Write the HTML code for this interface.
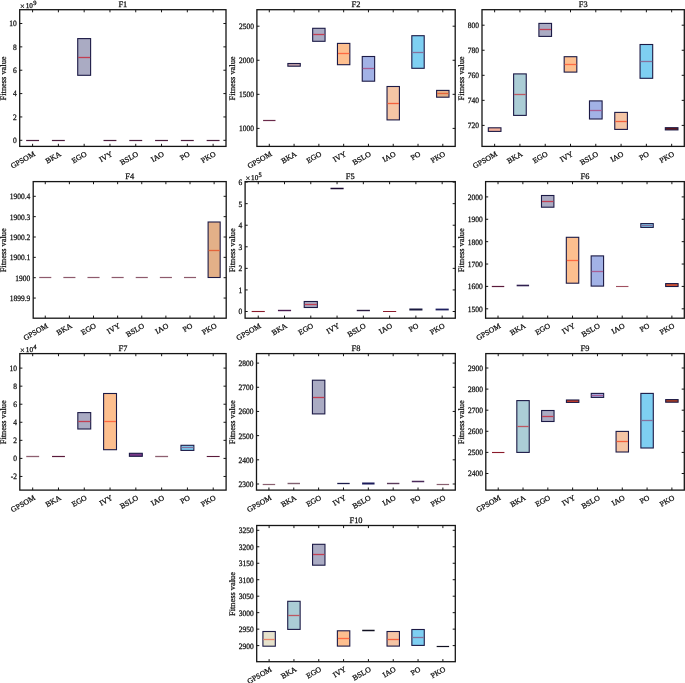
<!DOCTYPE html>
<html><head><meta charset="utf-8"><style>
html,body{margin:0;padding:0;background:#fff;}
svg{display:block;will-change:transform;}
text{text-rendering:geometricPrecision;font-family:"Liberation Serif",serif;fill:#111;stroke:#111;stroke-width:0.26px;}
</style></head><body>
<svg width="685" height="683" viewBox="0 0 685 683">
<rect width="685" height="683" fill="#fff"/>
<g><rect x="26.15" y="139.9" width="12.89" height="1.2" fill="#4a1c3c"/><rect x="51.93" y="139.9" width="12.89" height="1.2" fill="#4a1c3c"/><rect x="77.72" y="38.6" width="12.89" height="36.7" fill="#aaabc3" stroke="#1c1a46" stroke-width="1.1"/><line x1="78.22" x2="90.12" y1="57.5" y2="57.5" stroke="#c23e52" stroke-width="1.3"/><rect x="103.51" y="139.9" width="12.89" height="1.2" fill="#4a1c3c"/><rect x="129.3" y="139.9" width="12.89" height="1.2" fill="#4a1c3c"/><rect x="155.08" y="139.9" width="12.89" height="1.2" fill="#4a1c3c"/><rect x="180.87" y="139.9" width="12.89" height="1.2" fill="#4a1c3c"/><rect x="206.66" y="139.9" width="12.89" height="1.2" fill="#4a1c3c"/><path d="M32.59 146.4v-2.6M32.59 9.7v2.6M58.38 146.4v-2.6M58.38 9.7v2.6M84.17 146.4v-2.6M84.17 9.7v2.6M109.96 146.4v-2.6M109.96 9.7v2.6M135.74 146.4v-2.6M135.74 9.7v2.6M161.53 146.4v-2.6M161.53 9.7v2.6M187.32 146.4v-2.6M187.32 9.7v2.6M213.11 146.4v-2.6M213.11 9.7v2.6M19.7 140.3h2.6M226 140.3h-2.6M19.7 116.94h2.6M226 116.94h-2.6M19.7 93.58h2.6M226 93.58h-2.6M19.7 70.22h2.6M226 70.22h-2.6M19.7 46.86h2.6M226 46.86h-2.6M19.7 23.5h2.6M226 23.5h-2.6" stroke="#151515" stroke-width="1" fill="none"/><rect x="19.7" y="9.7" width="206.3" height="136.7" fill="none" stroke="#151515" stroke-width="1.3"/><text transform="translate(16.8 143.2) scale(0.915 1)" text-anchor="end" font-size="8.2">0</text><text transform="translate(16.8 119.84) scale(0.915 1)" text-anchor="end" font-size="8.2">2</text><text transform="translate(16.8 96.48) scale(0.915 1)" text-anchor="end" font-size="8.2">4</text><text transform="translate(16.8 73.12) scale(0.915 1)" text-anchor="end" font-size="8.2">6</text><text transform="translate(16.8 49.76) scale(0.915 1)" text-anchor="end" font-size="8.2">8</text><text transform="translate(16.8 26.4) scale(0.915 1)" text-anchor="end" font-size="8.2">10</text><text transform="translate(34.59 153.4) rotate(-30) scale(1.04 1)" text-anchor="end" font-size="7.5" dy="2.3">GPSOM</text><text transform="translate(60.38 153.4) rotate(-30) scale(1.04 1)" text-anchor="end" font-size="7.5" dy="2.3">BKA</text><text transform="translate(86.17 153.4) rotate(-30) scale(1.04 1)" text-anchor="end" font-size="7.5" dy="2.3">EGO</text><text transform="translate(111.96 153.4) rotate(-30) scale(1.04 1)" text-anchor="end" font-size="7.5" dy="2.3">IVY</text><text transform="translate(137.74 153.4) rotate(-30) scale(1.04 1)" text-anchor="end" font-size="7.5" dy="2.3">BSLO</text><text transform="translate(163.53 153.4) rotate(-30) scale(1.04 1)" text-anchor="end" font-size="7.5" dy="2.3">IAO</text><text transform="translate(189.32 153.4) rotate(-30) scale(1.04 1)" text-anchor="end" font-size="7.5" dy="2.3">PO</text><text transform="translate(215.11 153.4) rotate(-30) scale(1.04 1)" text-anchor="end" font-size="7.5" dy="2.3">PKO</text><text x="122.85" y="7" text-anchor="middle" font-size="8.4">F1</text><text transform="translate(5.7 78.45) rotate(-90)" text-anchor="middle" font-size="8.4">Fitness value</text><text x="20" y="9.3" font-size="8.4">×</text><text x="25.7" y="7.8" font-size="7.2">10</text><text x="33.2" y="4.8" font-size="6.5">9</text></g>
<g><rect x="263.1" y="119.9" width="12.39" height="1.2" fill="#6a2a4a"/><rect x="287.88" y="63.5" width="12.39" height="2.7" fill="#c4a2aa" stroke="#1c1a46" stroke-width="1.1"/><rect x="312.67" y="28.3" width="12.39" height="13" fill="#aaabc3" stroke="#1c1a46" stroke-width="1.1"/><line x1="313.17" x2="324.57" y1="34.5" y2="34.5" stroke="#c23e52" stroke-width="1.3"/><rect x="337.46" y="43.4" width="12.39" height="21.3" fill="#fdbf8f" stroke="#1c1a46" stroke-width="1.1"/><line x1="337.96" x2="349.35" y1="53.5" y2="53.5" stroke="#ff6a42" stroke-width="1.3"/><rect x="362.25" y="56.5" width="12.39" height="24.7" fill="#a2b2e6" stroke="#1c1a46" stroke-width="1.1"/><line x1="362.75" x2="374.14" y1="68.5" y2="68.5" stroke="#a85e94" stroke-width="1.3"/><rect x="387.03" y="86.5" width="12.39" height="33.4" fill="#f5c5a5" stroke="#1c1a46" stroke-width="1.1"/><line x1="387.53" x2="398.93" y1="103.5" y2="103.5" stroke="#f4603c" stroke-width="1.3"/><rect x="411.82" y="35.7" width="12.39" height="32.6" fill="#7ecff2" stroke="#1c1a46" stroke-width="1.1"/><line x1="412.32" x2="423.72" y1="52.5" y2="52.5" stroke="#86709c" stroke-width="1.3"/><rect x="436.61" y="90.4" width="12.39" height="6.8" fill="#e3b088" stroke="#1c1a46" stroke-width="1.1"/><line x1="437.11" x2="448.5" y1="93.5" y2="93.5" stroke="#e4643a" stroke-width="1.3"/><path d="M269.29 146.4v-2.6M269.29 9.7v2.6M294.08 146.4v-2.6M294.08 9.7v2.6M318.87 146.4v-2.6M318.87 9.7v2.6M343.66 146.4v-2.6M343.66 9.7v2.6M368.44 146.4v-2.6M368.44 9.7v2.6M393.23 146.4v-2.6M393.23 9.7v2.6M418.02 146.4v-2.6M418.02 9.7v2.6M442.81 146.4v-2.6M442.81 9.7v2.6M256.9 128.4h2.6M455.2 128.4h-2.6M256.9 94.33h2.6M455.2 94.33h-2.6M256.9 60.26h2.6M455.2 60.26h-2.6M256.9 26.19h2.6M455.2 26.19h-2.6" stroke="#151515" stroke-width="1" fill="none"/><rect x="256.9" y="9.7" width="198.3" height="136.7" fill="none" stroke="#151515" stroke-width="1.3"/><text transform="translate(254 131.3) scale(0.915 1)" text-anchor="end" font-size="8.2">1000</text><text transform="translate(254 97.23) scale(0.915 1)" text-anchor="end" font-size="8.2">1500</text><text transform="translate(254 63.16) scale(0.915 1)" text-anchor="end" font-size="8.2">2000</text><text transform="translate(254 29.09) scale(0.915 1)" text-anchor="end" font-size="8.2">2500</text><text transform="translate(271.29 153.4) rotate(-30) scale(1.04 1)" text-anchor="end" font-size="7.5" dy="2.3">GPSOM</text><text transform="translate(296.08 153.4) rotate(-30) scale(1.04 1)" text-anchor="end" font-size="7.5" dy="2.3">BKA</text><text transform="translate(320.87 153.4) rotate(-30) scale(1.04 1)" text-anchor="end" font-size="7.5" dy="2.3">EGO</text><text transform="translate(345.66 153.4) rotate(-30) scale(1.04 1)" text-anchor="end" font-size="7.5" dy="2.3">IVY</text><text transform="translate(370.44 153.4) rotate(-30) scale(1.04 1)" text-anchor="end" font-size="7.5" dy="2.3">BSLO</text><text transform="translate(395.23 153.4) rotate(-30) scale(1.04 1)" text-anchor="end" font-size="7.5" dy="2.3">IAO</text><text transform="translate(420.02 153.4) rotate(-30) scale(1.04 1)" text-anchor="end" font-size="7.5" dy="2.3">PO</text><text transform="translate(444.81 153.4) rotate(-30) scale(1.04 1)" text-anchor="end" font-size="7.5" dy="2.3">PKO</text><text x="356.05" y="7" text-anchor="middle" font-size="8.4">F2</text><text transform="translate(235.39 78.45) rotate(-90)" text-anchor="middle" font-size="8.4">Fitness value</text></g>
<g><rect x="488.32" y="127.8" width="12.64" height="3.6" fill="#f4b09a" stroke="#1c1a46" stroke-width="1.1"/><rect x="513.61" y="73.9" width="12.64" height="41.5" fill="#abcdd6" stroke="#1c1a46" stroke-width="1.1"/><line x1="514.11" x2="525.75" y1="94.5" y2="94.5" stroke="#bc5862" stroke-width="1.3"/><rect x="538.9" y="23.4" width="12.64" height="13" fill="#aaabc3" stroke="#1c1a46" stroke-width="1.1"/><line x1="539.4" x2="551.04" y1="29.5" y2="29.5" stroke="#c23e52" stroke-width="1.3"/><rect x="564.18" y="56.7" width="12.64" height="15.4" fill="#fdbf8f" stroke="#1c1a46" stroke-width="1.1"/><line x1="564.68" x2="576.33" y1="64.5" y2="64.5" stroke="#ff6a42" stroke-width="1.3"/><rect x="589.47" y="100.9" width="12.64" height="18.1" fill="#a2b2e6" stroke="#1c1a46" stroke-width="1.1"/><line x1="589.97" x2="601.62" y1="110.5" y2="110.5" stroke="#a85e94" stroke-width="1.3"/><rect x="614.76" y="112.4" width="12.64" height="17" fill="#f5c5a5" stroke="#1c1a46" stroke-width="1.1"/><line x1="615.26" x2="626.9" y1="121.5" y2="121.5" stroke="#f4603c" stroke-width="1.3"/><rect x="640.05" y="44.5" width="12.64" height="33.8" fill="#7ecff2" stroke="#1c1a46" stroke-width="1.1"/><line x1="640.55" x2="652.19" y1="61.5" y2="61.5" stroke="#86709c" stroke-width="1.3"/><rect x="665.33" y="127.7" width="12.64" height="2.2" fill="#701510" stroke="#1c1a46" stroke-width="1.1"/><path d="M494.64 146.4v-2.6M494.64 9.7v2.6M519.93 146.4v-2.6M519.93 9.7v2.6M545.22 146.4v-2.6M545.22 9.7v2.6M570.51 146.4v-2.6M570.51 9.7v2.6M595.79 146.4v-2.6M595.79 9.7v2.6M621.08 146.4v-2.6M621.08 9.7v2.6M646.37 146.4v-2.6M646.37 9.7v2.6M671.66 146.4v-2.6M671.66 9.7v2.6M482 125.4h2.6M684.3 125.4h-2.6M482 100.35h2.6M684.3 100.35h-2.6M482 75.3h2.6M684.3 75.3h-2.6M482 50.25h2.6M684.3 50.25h-2.6M482 25.2h2.6M684.3 25.2h-2.6" stroke="#151515" stroke-width="1" fill="none"/><rect x="482" y="9.7" width="202.3" height="136.7" fill="none" stroke="#151515" stroke-width="1.3"/><text transform="translate(479.1 128.3) scale(0.915 1)" text-anchor="end" font-size="8.2">720</text><text transform="translate(479.1 103.25) scale(0.915 1)" text-anchor="end" font-size="8.2">740</text><text transform="translate(479.1 78.2) scale(0.915 1)" text-anchor="end" font-size="8.2">760</text><text transform="translate(479.1 53.15) scale(0.915 1)" text-anchor="end" font-size="8.2">780</text><text transform="translate(479.1 28.1) scale(0.915 1)" text-anchor="end" font-size="8.2">800</text><text transform="translate(496.64 153.4) rotate(-30) scale(1.04 1)" text-anchor="end" font-size="7.5" dy="2.3">GPSOM</text><text transform="translate(521.93 153.4) rotate(-30) scale(1.04 1)" text-anchor="end" font-size="7.5" dy="2.3">BKA</text><text transform="translate(547.22 153.4) rotate(-30) scale(1.04 1)" text-anchor="end" font-size="7.5" dy="2.3">EGO</text><text transform="translate(572.51 153.4) rotate(-30) scale(1.04 1)" text-anchor="end" font-size="7.5" dy="2.3">IVY</text><text transform="translate(597.79 153.4) rotate(-30) scale(1.04 1)" text-anchor="end" font-size="7.5" dy="2.3">BSLO</text><text transform="translate(623.08 153.4) rotate(-30) scale(1.04 1)" text-anchor="end" font-size="7.5" dy="2.3">IAO</text><text transform="translate(648.37 153.4) rotate(-30) scale(1.04 1)" text-anchor="end" font-size="7.5" dy="2.3">PO</text><text transform="translate(673.66 153.4) rotate(-30) scale(1.04 1)" text-anchor="end" font-size="7.5" dy="2.3">PKO</text><text x="583.15" y="7" text-anchor="middle" font-size="8.4">F3</text><text transform="translate(464.25 78.45) rotate(-90)" text-anchor="middle" font-size="8.4">Fitness value</text></g>
<g><rect x="39.23" y="276.9" width="12.06" height="1.2" fill="#8e5a6c"/><rect x="63.36" y="276.9" width="12.06" height="1.2" fill="#8e5a6c"/><rect x="87.48" y="276.9" width="12.06" height="1.2" fill="#8e5a6c"/><rect x="111.61" y="276.9" width="12.06" height="1.2" fill="#8e5a6c"/><rect x="135.73" y="276.9" width="12.06" height="1.2" fill="#8e5a6c"/><rect x="159.86" y="276.9" width="12.06" height="1.2" fill="#8e5a6c"/><rect x="183.98" y="276.9" width="12.06" height="1.2" fill="#8e5a6c"/><rect x="208.11" y="222" width="12.06" height="55.5" fill="#e3b088" stroke="#1c1a46" stroke-width="1.1"/><line x1="208.61" x2="219.67" y1="250.5" y2="250.5" stroke="#e4643a" stroke-width="1.3"/><path d="M45.26 318.2v-2.6M45.26 181.6v2.6M69.39 318.2v-2.6M69.39 181.6v2.6M93.51 318.2v-2.6M93.51 181.6v2.6M117.64 318.2v-2.6M117.64 181.6v2.6M141.76 318.2v-2.6M141.76 181.6v2.6M165.89 318.2v-2.6M165.89 181.6v2.6M190.01 318.2v-2.6M190.01 181.6v2.6M214.14 318.2v-2.6M214.14 181.6v2.6M33.2 298.05h2.6M226.2 298.05h-2.6M33.2 277.7h2.6M226.2 277.7h-2.6M33.2 257.35h2.6M226.2 257.35h-2.6M33.2 237h2.6M226.2 237h-2.6M33.2 216.65h2.6M226.2 216.65h-2.6M33.2 196.3h2.6M226.2 196.3h-2.6" stroke="#151515" stroke-width="1" fill="none"/><rect x="33.2" y="181.6" width="193" height="136.6" fill="none" stroke="#151515" stroke-width="1.3"/><text transform="translate(30.3 300.95) scale(0.915 1)" text-anchor="end" font-size="8.2">1899.9</text><text transform="translate(30.3 280.6) scale(0.915 1)" text-anchor="end" font-size="8.2">1900</text><text transform="translate(30.3 260.25) scale(0.915 1)" text-anchor="end" font-size="8.2">1900.1</text><text transform="translate(30.3 239.9) scale(0.915 1)" text-anchor="end" font-size="8.2">1900.2</text><text transform="translate(30.3 219.55) scale(0.915 1)" text-anchor="end" font-size="8.2">1900.3</text><text transform="translate(30.3 199.2) scale(0.915 1)" text-anchor="end" font-size="8.2">1900.4</text><text transform="translate(47.26 325.2) rotate(-30) scale(1.04 1)" text-anchor="end" font-size="7.5" dy="2.3">GPSOM</text><text transform="translate(71.39 325.2) rotate(-30) scale(1.04 1)" text-anchor="end" font-size="7.5" dy="2.3">BKA</text><text transform="translate(95.51 325.2) rotate(-30) scale(1.04 1)" text-anchor="end" font-size="7.5" dy="2.3">EGO</text><text transform="translate(119.64 325.2) rotate(-30) scale(1.04 1)" text-anchor="end" font-size="7.5" dy="2.3">IVY</text><text transform="translate(143.76 325.2) rotate(-30) scale(1.04 1)" text-anchor="end" font-size="7.5" dy="2.3">BSLO</text><text transform="translate(167.89 325.2) rotate(-30) scale(1.04 1)" text-anchor="end" font-size="7.5" dy="2.3">IAO</text><text transform="translate(192.01 325.2) rotate(-30) scale(1.04 1)" text-anchor="end" font-size="7.5" dy="2.3">PO</text><text transform="translate(216.14 325.2) rotate(-30) scale(1.04 1)" text-anchor="end" font-size="7.5" dy="2.3">PKO</text><text x="129.7" y="178.9" text-anchor="middle" font-size="8.4">F4</text><text transform="translate(6.07 250.3) rotate(-90)" text-anchor="middle" font-size="8.4">Fitness value</text></g>
<g><rect x="251.67" y="310.95" width="13.14" height="1.1" fill="#8a1a2a"/><rect x="277.94" y="309.8" width="13.14" height="1.4" fill="#4a1a50"/><rect x="304.22" y="301.5" width="13.14" height="6" fill="#aaabc3" stroke="#1c1a46" stroke-width="1.1"/><line x1="304.72" x2="316.86" y1="304.5" y2="304.5" stroke="#c23e52" stroke-width="1.3"/><rect x="330.49" y="187.75" width="13.14" height="1.5" fill="#1a0a30"/><rect x="356.77" y="309.8" width="13.14" height="1.4" fill="#2a1a40"/><rect x="383.04" y="311" width="13.14" height="1" fill="#8a1a2a"/><rect x="409.32" y="308.5" width="13.14" height="2" fill="#1a1a40"/><rect x="435.59" y="308.6" width="13.14" height="1.8" fill="#1e2060"/><path d="M258.24 318.2v-2.6M258.24 181.6v2.6M284.51 318.2v-2.6M284.51 181.6v2.6M310.79 318.2v-2.6M310.79 181.6v2.6M337.06 318.2v-2.6M337.06 181.6v2.6M363.34 318.2v-2.6M363.34 181.6v2.6M389.61 318.2v-2.6M389.61 181.6v2.6M415.89 318.2v-2.6M415.89 181.6v2.6M442.16 318.2v-2.6M442.16 181.6v2.6M245.1 311.5h2.6M455.3 311.5h-2.6M245.1 289.93h2.6M455.3 289.93h-2.6M245.1 268.36h2.6M455.3 268.36h-2.6M245.1 246.79h2.6M455.3 246.79h-2.6M245.1 225.22h2.6M455.3 225.22h-2.6M245.1 203.65h2.6M455.3 203.65h-2.6M245.1 182.08h2.6M455.3 182.08h-2.6" stroke="#151515" stroke-width="1" fill="none"/><rect x="245.1" y="181.6" width="210.2" height="136.6" fill="none" stroke="#151515" stroke-width="1.3"/><text transform="translate(242.2 314.4) scale(0.915 1)" text-anchor="end" font-size="8.2">0</text><text transform="translate(242.2 292.83) scale(0.915 1)" text-anchor="end" font-size="8.2">1</text><text transform="translate(242.2 271.26) scale(0.915 1)" text-anchor="end" font-size="8.2">2</text><text transform="translate(242.2 249.69) scale(0.915 1)" text-anchor="end" font-size="8.2">3</text><text transform="translate(242.2 228.12) scale(0.915 1)" text-anchor="end" font-size="8.2">4</text><text transform="translate(242.2 206.55) scale(0.915 1)" text-anchor="end" font-size="8.2">5</text><text transform="translate(242.2 184.98) scale(0.915 1)" text-anchor="end" font-size="8.2">6</text><text transform="translate(260.24 325.2) rotate(-30) scale(1.04 1)" text-anchor="end" font-size="7.5" dy="2.3">GPSOM</text><text transform="translate(286.51 325.2) rotate(-30) scale(1.04 1)" text-anchor="end" font-size="7.5" dy="2.3">BKA</text><text transform="translate(312.79 325.2) rotate(-30) scale(1.04 1)" text-anchor="end" font-size="7.5" dy="2.3">EGO</text><text transform="translate(339.06 325.2) rotate(-30) scale(1.04 1)" text-anchor="end" font-size="7.5" dy="2.3">IVY</text><text transform="translate(365.34 325.2) rotate(-30) scale(1.04 1)" text-anchor="end" font-size="7.5" dy="2.3">BSLO</text><text transform="translate(391.61 325.2) rotate(-30) scale(1.04 1)" text-anchor="end" font-size="7.5" dy="2.3">IAO</text><text transform="translate(417.89 325.2) rotate(-30) scale(1.04 1)" text-anchor="end" font-size="7.5" dy="2.3">PO</text><text transform="translate(444.16 325.2) rotate(-30) scale(1.04 1)" text-anchor="end" font-size="7.5" dy="2.3">PKO</text><text x="350.2" y="178.9" text-anchor="middle" font-size="8.4">F5</text><text transform="translate(234.85 250.3) rotate(-90)" text-anchor="middle" font-size="8.4">Fitness value</text><text x="245.4" y="181.2" font-size="8.4">×</text><text x="251.1" y="179.7" font-size="7.2">10</text><text x="258.6" y="176.7" font-size="6.5">5</text></g>
<g><rect x="491.81" y="285.9" width="12.42" height="1.2" fill="#5a1a3a"/><rect x="516.65" y="284.7" width="12.42" height="1.6" fill="#302050"/><rect x="541.48" y="195.5" width="12.42" height="11.7" fill="#aaabc3" stroke="#1c1a46" stroke-width="1.1"/><line x1="541.98" x2="553.4" y1="201.5" y2="201.5" stroke="#c23e52" stroke-width="1.3"/><rect x="566.32" y="237.3" width="12.42" height="45.9" fill="#fdbf8f" stroke="#1c1a46" stroke-width="1.1"/><line x1="566.82" x2="578.24" y1="260.5" y2="260.5" stroke="#ff6a42" stroke-width="1.3"/><rect x="591.16" y="255.9" width="12.42" height="30.2" fill="#a2b2e6" stroke="#1c1a46" stroke-width="1.1"/><line x1="591.66" x2="603.08" y1="271.5" y2="271.5" stroke="#a85e94" stroke-width="1.3"/><rect x="616" y="285.95" width="12.42" height="1.1" fill="#a05060"/><rect x="640.83" y="223.6" width="12.42" height="3.8" fill="#7ecff2" stroke="#1c1a46" stroke-width="1.1"/><line x1="641.33" x2="652.75" y1="225.5" y2="225.5" stroke="#86709c" stroke-width="1.3"/><rect x="665.67" y="283.6" width="12.42" height="2.9" fill="#d45434" stroke="#1c1a46" stroke-width="1.1"/><path d="M498.02 318.2v-2.6M498.02 181.6v2.6M522.86 318.2v-2.6M522.86 181.6v2.6M547.69 318.2v-2.6M547.69 181.6v2.6M572.53 318.2v-2.6M572.53 181.6v2.6M597.37 318.2v-2.6M597.37 181.6v2.6M622.21 318.2v-2.6M622.21 181.6v2.6M647.04 318.2v-2.6M647.04 181.6v2.6M671.88 318.2v-2.6M671.88 181.6v2.6M485.6 308.8h2.6M684.3 308.8h-2.6M485.6 286.42h2.6M684.3 286.42h-2.6M485.6 264.04h2.6M684.3 264.04h-2.6M485.6 241.66h2.6M684.3 241.66h-2.6M485.6 219.28h2.6M684.3 219.28h-2.6M485.6 196.9h2.6M684.3 196.9h-2.6" stroke="#151515" stroke-width="1" fill="none"/><rect x="485.6" y="181.6" width="198.7" height="136.6" fill="none" stroke="#151515" stroke-width="1.3"/><text transform="translate(482.7 311.7) scale(0.915 1)" text-anchor="end" font-size="8.2">1500</text><text transform="translate(482.7 289.32) scale(0.915 1)" text-anchor="end" font-size="8.2">1600</text><text transform="translate(482.7 266.94) scale(0.915 1)" text-anchor="end" font-size="8.2">1700</text><text transform="translate(482.7 244.56) scale(0.915 1)" text-anchor="end" font-size="8.2">1800</text><text transform="translate(482.7 222.18) scale(0.915 1)" text-anchor="end" font-size="8.2">1900</text><text transform="translate(482.7 199.8) scale(0.915 1)" text-anchor="end" font-size="8.2">2000</text><text transform="translate(500.02 325.2) rotate(-30) scale(1.04 1)" text-anchor="end" font-size="7.5" dy="2.3">GPSOM</text><text transform="translate(524.86 325.2) rotate(-30) scale(1.04 1)" text-anchor="end" font-size="7.5" dy="2.3">BKA</text><text transform="translate(549.69 325.2) rotate(-30) scale(1.04 1)" text-anchor="end" font-size="7.5" dy="2.3">EGO</text><text transform="translate(574.53 325.2) rotate(-30) scale(1.04 1)" text-anchor="end" font-size="7.5" dy="2.3">IVY</text><text transform="translate(599.37 325.2) rotate(-30) scale(1.04 1)" text-anchor="end" font-size="7.5" dy="2.3">BSLO</text><text transform="translate(624.21 325.2) rotate(-30) scale(1.04 1)" text-anchor="end" font-size="7.5" dy="2.3">IAO</text><text transform="translate(649.04 325.2) rotate(-30) scale(1.04 1)" text-anchor="end" font-size="7.5" dy="2.3">PO</text><text transform="translate(673.88 325.2) rotate(-30) scale(1.04 1)" text-anchor="end" font-size="7.5" dy="2.3">PKO</text><text x="584.95" y="178.9" text-anchor="middle" font-size="8.4">F6</text><text transform="translate(464.09 250.3) rotate(-90)" text-anchor="middle" font-size="8.4">Fitness value</text></g>
<g><rect x="26.25" y="455.85" width="12.89" height="1.3" fill="#8e6070"/><rect x="52.03" y="455.9" width="12.89" height="1.2" fill="#5a1a3a"/><rect x="77.82" y="412.6" width="12.89" height="16.4" fill="#aaabc3" stroke="#1c1a46" stroke-width="1.1"/><line x1="78.32" x2="90.22" y1="421.5" y2="421.5" stroke="#c23e52" stroke-width="1.3"/><rect x="103.61" y="393.5" width="12.89" height="56.2" fill="#fdbf8f" stroke="#1c1a46" stroke-width="1.1"/><line x1="104.11" x2="116" y1="421.5" y2="421.5" stroke="#ff6a42" stroke-width="1.3"/><rect x="129.4" y="453.3" width="12.89" height="3" fill="#7a3a8a" stroke="#1c1a46" stroke-width="1.1"/><rect x="155.18" y="455.85" width="12.89" height="1.3" fill="#8e6070"/><rect x="180.97" y="445.3" width="12.89" height="5.1" fill="#7ecff2" stroke="#1c1a46" stroke-width="1.1"/><line x1="181.47" x2="193.37" y1="447.5" y2="447.5" stroke="#86709c" stroke-width="1.3"/><rect x="206.76" y="455.95" width="12.89" height="1.1" fill="#5a1a3a"/><path d="M32.69 490.1v-2.6M32.69 353.6v2.6M58.48 490.1v-2.6M58.48 353.6v2.6M84.27 490.1v-2.6M84.27 353.6v2.6M110.06 490.1v-2.6M110.06 353.6v2.6M135.84 490.1v-2.6M135.84 353.6v2.6M161.63 490.1v-2.6M161.63 353.6v2.6M187.42 490.1v-2.6M187.42 353.6v2.6M213.21 490.1v-2.6M213.21 353.6v2.6M19.8 476.46h2.6M226.1 476.46h-2.6M19.8 458.4h2.6M226.1 458.4h-2.6M19.8 440.34h2.6M226.1 440.34h-2.6M19.8 422.28h2.6M226.1 422.28h-2.6M19.8 404.22h2.6M226.1 404.22h-2.6M19.8 386.16h2.6M226.1 386.16h-2.6M19.8 368.1h2.6M226.1 368.1h-2.6" stroke="#151515" stroke-width="1" fill="none"/><rect x="19.8" y="353.6" width="206.3" height="136.5" fill="none" stroke="#151515" stroke-width="1.3"/><text transform="translate(16.9 479.36) scale(0.915 1)" text-anchor="end" font-size="8.2">-2</text><text transform="translate(16.9 461.3) scale(0.915 1)" text-anchor="end" font-size="8.2">0</text><text transform="translate(16.9 443.24) scale(0.915 1)" text-anchor="end" font-size="8.2">2</text><text transform="translate(16.9 425.18) scale(0.915 1)" text-anchor="end" font-size="8.2">4</text><text transform="translate(16.9 407.12) scale(0.915 1)" text-anchor="end" font-size="8.2">6</text><text transform="translate(16.9 389.06) scale(0.915 1)" text-anchor="end" font-size="8.2">8</text><text transform="translate(16.9 371) scale(0.915 1)" text-anchor="end" font-size="8.2">10</text><text transform="translate(34.69 497.1) rotate(-30) scale(1.04 1)" text-anchor="end" font-size="7.5" dy="2.3">GPSOM</text><text transform="translate(60.48 497.1) rotate(-30) scale(1.04 1)" text-anchor="end" font-size="7.5" dy="2.3">BKA</text><text transform="translate(86.27 497.1) rotate(-30) scale(1.04 1)" text-anchor="end" font-size="7.5" dy="2.3">EGO</text><text transform="translate(112.06 497.1) rotate(-30) scale(1.04 1)" text-anchor="end" font-size="7.5" dy="2.3">IVY</text><text transform="translate(137.84 497.1) rotate(-30) scale(1.04 1)" text-anchor="end" font-size="7.5" dy="2.3">BSLO</text><text transform="translate(163.63 497.1) rotate(-30) scale(1.04 1)" text-anchor="end" font-size="7.5" dy="2.3">IAO</text><text transform="translate(189.42 497.1) rotate(-30) scale(1.04 1)" text-anchor="end" font-size="7.5" dy="2.3">PO</text><text transform="translate(215.21 497.1) rotate(-30) scale(1.04 1)" text-anchor="end" font-size="7.5" dy="2.3">PKO</text><text x="122.95" y="350.9" text-anchor="middle" font-size="8.4">F7</text><text transform="translate(5.8 422.25) rotate(-90)" text-anchor="middle" font-size="8.4">Fitness value</text><text x="20.1" y="353.2" font-size="8.4">×</text><text x="25.8" y="351.7" font-size="7.2">10</text><text x="33.3" y="348.7" font-size="6.5">4</text></g>
<g><rect x="262.71" y="483.9" width="12.43" height="1.2" fill="#8a6070"/><rect x="287.56" y="482.8" width="12.43" height="1.4" fill="#806070"/><rect x="312.41" y="380.2" width="12.43" height="33.7" fill="#aaabc3" stroke="#1c1a46" stroke-width="1.1"/><line x1="312.91" x2="324.34" y1="397.5" y2="397.5" stroke="#c23e52" stroke-width="1.3"/><rect x="337.26" y="482.85" width="12.43" height="1.3" fill="#1a1a4a"/><rect x="362.11" y="482.5" width="12.43" height="2" fill="#1a1a5a"/><rect x="386.96" y="482.8" width="12.43" height="1.4" fill="#5a3a5a"/><rect x="411.81" y="480.75" width="12.43" height="1.5" fill="#4a2a5a"/><rect x="436.66" y="483.9" width="12.43" height="1.2" fill="#8a6070"/><path d="M268.93 490.1v-2.6M268.93 353.6v2.6M293.77 490.1v-2.6M293.77 353.6v2.6M318.62 490.1v-2.6M318.62 353.6v2.6M343.48 490.1v-2.6M343.48 353.6v2.6M368.32 490.1v-2.6M368.32 353.6v2.6M393.18 490.1v-2.6M393.18 353.6v2.6M418.02 490.1v-2.6M418.02 353.6v2.6M442.88 490.1v-2.6M442.88 353.6v2.6M256.5 484h2.6M455.3 484h-2.6M256.5 459.82h2.6M455.3 459.82h-2.6M256.5 435.64h2.6M455.3 435.64h-2.6M256.5 411.46h2.6M455.3 411.46h-2.6M256.5 387.28h2.6M455.3 387.28h-2.6M256.5 363.1h2.6M455.3 363.1h-2.6" stroke="#151515" stroke-width="1" fill="none"/><rect x="256.5" y="353.6" width="198.8" height="136.5" fill="none" stroke="#151515" stroke-width="1.3"/><text transform="translate(253.6 486.9) scale(0.915 1)" text-anchor="end" font-size="8.2">2300</text><text transform="translate(253.6 462.72) scale(0.915 1)" text-anchor="end" font-size="8.2">2400</text><text transform="translate(253.6 438.54) scale(0.915 1)" text-anchor="end" font-size="8.2">2500</text><text transform="translate(253.6 414.36) scale(0.915 1)" text-anchor="end" font-size="8.2">2600</text><text transform="translate(253.6 390.18) scale(0.915 1)" text-anchor="end" font-size="8.2">2700</text><text transform="translate(253.6 366) scale(0.915 1)" text-anchor="end" font-size="8.2">2800</text><text transform="translate(270.93 497.1) rotate(-30) scale(1.04 1)" text-anchor="end" font-size="7.5" dy="2.3">GPSOM</text><text transform="translate(295.77 497.1) rotate(-30) scale(1.04 1)" text-anchor="end" font-size="7.5" dy="2.3">BKA</text><text transform="translate(320.62 497.1) rotate(-30) scale(1.04 1)" text-anchor="end" font-size="7.5" dy="2.3">EGO</text><text transform="translate(345.48 497.1) rotate(-30) scale(1.04 1)" text-anchor="end" font-size="7.5" dy="2.3">IVY</text><text transform="translate(370.32 497.1) rotate(-30) scale(1.04 1)" text-anchor="end" font-size="7.5" dy="2.3">BSLO</text><text transform="translate(395.18 497.1) rotate(-30) scale(1.04 1)" text-anchor="end" font-size="7.5" dy="2.3">IAO</text><text transform="translate(420.02 497.1) rotate(-30) scale(1.04 1)" text-anchor="end" font-size="7.5" dy="2.3">PO</text><text transform="translate(444.88 497.1) rotate(-30) scale(1.04 1)" text-anchor="end" font-size="7.5" dy="2.3">PKO</text><text x="355.9" y="350.9" text-anchor="middle" font-size="8.4">F8</text><text transform="translate(234.99 422.25) rotate(-90)" text-anchor="middle" font-size="8.4">Fitness value</text></g>
<g><rect x="492" y="451.95" width="12.41" height="1.1" fill="#8a1a2a"/><rect x="516.82" y="400.6" width="12.41" height="51.8" fill="#abcdd6" stroke="#1c1a46" stroke-width="1.1"/><line x1="517.32" x2="528.72" y1="426.5" y2="426.5" stroke="#bc5862" stroke-width="1.3"/><rect x="541.63" y="410.5" width="12.41" height="11" fill="#aaabc3" stroke="#1c1a46" stroke-width="1.1"/><line x1="542.13" x2="553.53" y1="416.5" y2="416.5" stroke="#c23e52" stroke-width="1.3"/><rect x="566.44" y="400" width="12.41" height="2.4" fill="#d84028" stroke="#1c1a46" stroke-width="1.1"/><rect x="591.25" y="393.4" width="12.41" height="4" fill="#a2b2e6" stroke="#1c1a46" stroke-width="1.1"/><line x1="591.75" x2="603.16" y1="395.5" y2="395.5" stroke="#a85e94" stroke-width="1.3"/><rect x="616.07" y="431.4" width="12.41" height="20.6" fill="#f5c5a5" stroke="#1c1a46" stroke-width="1.1"/><line x1="616.57" x2="627.97" y1="441.5" y2="441.5" stroke="#f4603c" stroke-width="1.3"/><rect x="640.88" y="393.4" width="12.41" height="54.6" fill="#7ecff2" stroke="#1c1a46" stroke-width="1.1"/><line x1="641.38" x2="652.78" y1="420.5" y2="420.5" stroke="#86709c" stroke-width="1.3"/><rect x="665.69" y="399.6" width="12.41" height="2.6" fill="#b03c22" stroke="#1c1a46" stroke-width="1.1"/><path d="M498.21 490.1v-2.6M498.21 353.6v2.6M523.02 490.1v-2.6M523.02 353.6v2.6M547.83 490.1v-2.6M547.83 353.6v2.6M572.64 490.1v-2.6M572.64 353.6v2.6M597.46 490.1v-2.6M597.46 353.6v2.6M622.27 490.1v-2.6M622.27 353.6v2.6M647.08 490.1v-2.6M647.08 353.6v2.6M671.89 490.1v-2.6M671.89 353.6v2.6M485.8 473.5h2.6M684.3 473.5h-2.6M485.8 452.4h2.6M684.3 452.4h-2.6M485.8 431.3h2.6M684.3 431.3h-2.6M485.8 410.2h2.6M684.3 410.2h-2.6M485.8 389.1h2.6M684.3 389.1h-2.6M485.8 368h2.6M684.3 368h-2.6" stroke="#151515" stroke-width="1" fill="none"/><rect x="485.8" y="353.6" width="198.5" height="136.5" fill="none" stroke="#151515" stroke-width="1.3"/><text transform="translate(482.9 476.4) scale(0.915 1)" text-anchor="end" font-size="8.2">2400</text><text transform="translate(482.9 455.3) scale(0.915 1)" text-anchor="end" font-size="8.2">2500</text><text transform="translate(482.9 434.2) scale(0.915 1)" text-anchor="end" font-size="8.2">2600</text><text transform="translate(482.9 413.1) scale(0.915 1)" text-anchor="end" font-size="8.2">2700</text><text transform="translate(482.9 392) scale(0.915 1)" text-anchor="end" font-size="8.2">2800</text><text transform="translate(482.9 370.9) scale(0.915 1)" text-anchor="end" font-size="8.2">2900</text><text transform="translate(500.21 497.1) rotate(-30) scale(1.04 1)" text-anchor="end" font-size="7.5" dy="2.3">GPSOM</text><text transform="translate(525.02 497.1) rotate(-30) scale(1.04 1)" text-anchor="end" font-size="7.5" dy="2.3">BKA</text><text transform="translate(549.83 497.1) rotate(-30) scale(1.04 1)" text-anchor="end" font-size="7.5" dy="2.3">EGO</text><text transform="translate(574.64 497.1) rotate(-30) scale(1.04 1)" text-anchor="end" font-size="7.5" dy="2.3">IVY</text><text transform="translate(599.46 497.1) rotate(-30) scale(1.04 1)" text-anchor="end" font-size="7.5" dy="2.3">BSLO</text><text transform="translate(624.27 497.1) rotate(-30) scale(1.04 1)" text-anchor="end" font-size="7.5" dy="2.3">IAO</text><text transform="translate(649.08 497.1) rotate(-30) scale(1.04 1)" text-anchor="end" font-size="7.5" dy="2.3">PO</text><text transform="translate(673.89 497.1) rotate(-30) scale(1.04 1)" text-anchor="end" font-size="7.5" dy="2.3">PKO</text><text x="585.05" y="350.9" text-anchor="middle" font-size="8.4">F9</text><text transform="translate(464.29 422.25) rotate(-90)" text-anchor="middle" font-size="8.4">Fitness value</text></g>
<g><rect x="262.91" y="631.5" width="12.41" height="14.7" fill="#e6e2cc" stroke="#1c1a46" stroke-width="1.1"/><line x1="263.41" x2="274.82" y1="639.5" y2="639.5" stroke="#e8876c" stroke-width="1.3"/><rect x="287.73" y="601.3" width="12.41" height="28.1" fill="#abcdd6" stroke="#1c1a46" stroke-width="1.1"/><line x1="288.23" x2="299.64" y1="615.5" y2="615.5" stroke="#bc5862" stroke-width="1.3"/><rect x="312.56" y="544.3" width="12.41" height="20.9" fill="#aaabc3" stroke="#1c1a46" stroke-width="1.1"/><line x1="313.06" x2="324.47" y1="554.5" y2="554.5" stroke="#c23e52" stroke-width="1.3"/><rect x="337.38" y="630.8" width="12.41" height="15.3" fill="#fdbf8f" stroke="#1c1a46" stroke-width="1.1"/><line x1="337.88" x2="349.29" y1="638.5" y2="638.5" stroke="#ff6a42" stroke-width="1.3"/><rect x="362.21" y="629.75" width="12.41" height="1.5" fill="#101020"/><rect x="387.03" y="631.5" width="12.41" height="14.6" fill="#f5c5a5" stroke="#1c1a46" stroke-width="1.1"/><line x1="387.53" x2="398.94" y1="639.5" y2="639.5" stroke="#f4603c" stroke-width="1.3"/><rect x="411.86" y="629.5" width="12.41" height="15.9" fill="#7ecff2" stroke="#1c1a46" stroke-width="1.1"/><line x1="412.36" x2="423.77" y1="637.5" y2="637.5" stroke="#86709c" stroke-width="1.3"/><rect x="436.68" y="645.9" width="12.41" height="1.2" fill="#101020"/><path d="M269.11 661.7v-2.6M269.11 525.5v2.6M293.94 661.7v-2.6M293.94 525.5v2.6M318.76 661.7v-2.6M318.76 525.5v2.6M343.59 661.7v-2.6M343.59 525.5v2.6M368.41 661.7v-2.6M368.41 525.5v2.6M393.24 661.7v-2.6M393.24 525.5v2.6M418.06 661.7v-2.6M418.06 525.5v2.6M442.89 661.7v-2.6M442.89 525.5v2.6M256.7 645.6h2.6M455.3 645.6h-2.6M256.7 629.13h2.6M455.3 629.13h-2.6M256.7 612.66h2.6M455.3 612.66h-2.6M256.7 596.19h2.6M455.3 596.19h-2.6M256.7 579.72h2.6M455.3 579.72h-2.6M256.7 563.25h2.6M455.3 563.25h-2.6M256.7 546.78h2.6M455.3 546.78h-2.6M256.7 530.31h2.6M455.3 530.31h-2.6" stroke="#151515" stroke-width="1" fill="none"/><rect x="256.7" y="525.5" width="198.6" height="136.2" fill="none" stroke="#151515" stroke-width="1.3"/><text transform="translate(253.8 648.5) scale(0.915 1)" text-anchor="end" font-size="8.2">2900</text><text transform="translate(253.8 632.03) scale(0.915 1)" text-anchor="end" font-size="8.2">2950</text><text transform="translate(253.8 615.56) scale(0.915 1)" text-anchor="end" font-size="8.2">3000</text><text transform="translate(253.8 599.09) scale(0.915 1)" text-anchor="end" font-size="8.2">3050</text><text transform="translate(253.8 582.62) scale(0.915 1)" text-anchor="end" font-size="8.2">3100</text><text transform="translate(253.8 566.15) scale(0.915 1)" text-anchor="end" font-size="8.2">3150</text><text transform="translate(253.8 549.68) scale(0.915 1)" text-anchor="end" font-size="8.2">3200</text><text transform="translate(253.8 533.21) scale(0.915 1)" text-anchor="end" font-size="8.2">3250</text><text transform="translate(271.11 668.7) rotate(-30) scale(1.04 1)" text-anchor="end" font-size="7.5" dy="2.3">GPSOM</text><text transform="translate(295.94 668.7) rotate(-30) scale(1.04 1)" text-anchor="end" font-size="7.5" dy="2.3">BKA</text><text transform="translate(320.76 668.7) rotate(-30) scale(1.04 1)" text-anchor="end" font-size="7.5" dy="2.3">EGO</text><text transform="translate(345.59 668.7) rotate(-30) scale(1.04 1)" text-anchor="end" font-size="7.5" dy="2.3">IVY</text><text transform="translate(370.41 668.7) rotate(-30) scale(1.04 1)" text-anchor="end" font-size="7.5" dy="2.3">BSLO</text><text transform="translate(395.24 668.7) rotate(-30) scale(1.04 1)" text-anchor="end" font-size="7.5" dy="2.3">IAO</text><text transform="translate(420.06 668.7) rotate(-30) scale(1.04 1)" text-anchor="end" font-size="7.5" dy="2.3">PO</text><text transform="translate(444.89 668.7) rotate(-30) scale(1.04 1)" text-anchor="end" font-size="7.5" dy="2.3">PKO</text><text x="356" y="522.8" text-anchor="middle" font-size="8.4">F10</text><text transform="translate(235.19 594) rotate(-90)" text-anchor="middle" font-size="8.4">Fitness value</text></g>
</svg>
</body></html>
